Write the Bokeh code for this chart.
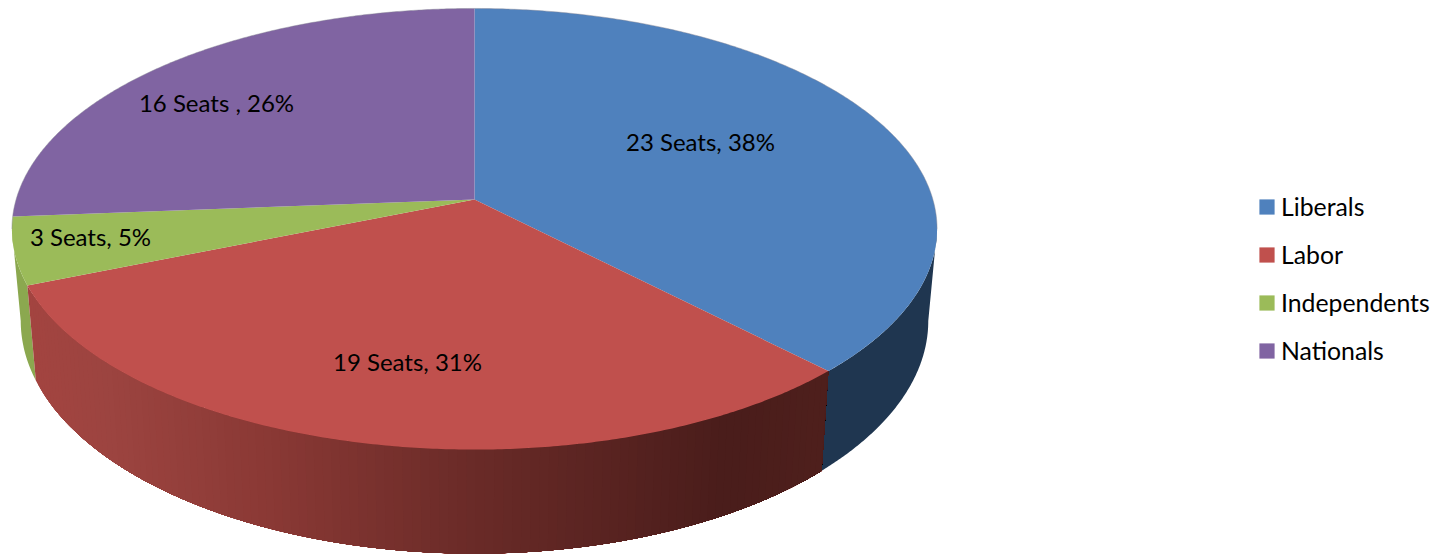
import numpy as np
from bokeh.plotting import figure
from bokeh.models import Legend, LegendItem, Range1d
from bokeh.core.properties import value
from bokeh.embed import file_html
from bokeh.resources import INLINE

# ---- chart data ----
PARTIES = ["Liberals", "Labor", "Independents", "Nationals"]
SEATS = [23, 19, 3, 16]
DATA_LABELS = ["23 Seats, 38%", "19 Seats, 31%", "3 Seats, 5%", "16 Seats , 26%"]

# ---- styling ----
TOP_COLORS = ["#4F81BD", "#C0504D", "#9BBB59", "#8064A2"]
SIDE_BLUE = "#1F3650"
SIDE_GREEN = "#8BA84F"
RED_STOPS_X = [30, 110, 265, 470, 725, 830]
RED_STOPS_RGB = [(163, 68, 64), (156, 68, 64), (138, 57, 53), (106, 43, 40), (74, 29, 27), (79, 32, 29)]
FONT = "Lato"
LABEL_SIZE = "24px"
LEGEND_SIZE = "24.8px"

# ---- layout of the projected disc, in page pixels ----
CX, CY, A, B, K = 474.0, 199.0, 458.4, 216.6, 0.1338
LABEL_ANCHORS = [(700, 141), (407, 361), (90, 236), (216, 102)]


def top_rim(theta):
    u, v = np.sin(theta), np.cos(theta)
    d = 1 + K * v
    return CX + A * u / d, CY - B * v / d


def bottom_rim(theta):
    x, y = top_rim(theta)
    return CX + 0.981 * (x - CX), 1.055 * y + 79.3


p = figure(width=1437, height=555, output_backend="svg", toolbar_location=None,
           x_range=Range1d(0, 1437), y_range=Range1d(555, 0),
           min_border=0, margin=(0, 0, 0, 0), outline_line_color=None,
           background_fill_color="white", border_fill_color="white")
p.axis.visible = False
p.grid.visible = False

edges = 2 * np.pi * np.concatenate([[0], np.cumsum(SEATS)]) / sum(SEATS)
theta_right = np.arccos(-K)
theta_left = 2 * np.pi - theta_right


def wall(t0, t1, colour):
    ts = np.linspace(t0, t1, 120)
    xt, yt = top_rim(ts)
    xb, yb = bottom_rim(ts[::-1])
    p.patch(np.r_[xt, xb], np.r_[yt, yb], fill_color=colour, line_color=None)


def red(x):
    rgb = [int(np.interp(x, RED_STOPS_X, [c[i] for c in RED_STOPS_RGB])) for i in range(3)]
    return "#%02x%02x%02x" % tuple(rgb)


wall(theta_right, edges[1], SIDE_BLUE)
wall(edges[2], theta_left, SIDE_GREEN)
# shaded red wall: painted from left to right, each band running to the slice's far end
for t0 in np.arange(edges[2], edges[1], -np.radians(1.0)):
    wall(edges[1], t0, red(top_rim(t0)[0]))

items = []
for i, name in enumerate(PARTIES):
    ts = np.linspace(edges[i], edges[i + 1], 240)
    xr, yr = top_rim(ts)
    r = p.patch(np.r_[CX, xr], np.r_[CY, yr], fill_color=TOP_COLORS[i], line_color=None)
    items.append(LegendItem(label=name, renderers=[r]))

# faint grey hairline along the back of the rim
back = np.linspace(theta_left - 2 * np.pi, theta_right, 300)
xb, yb = top_rim(back)
p.line(xb, yb, line_color="#8a8a96", line_width=1, line_alpha=0.45)

p.text([a[0] for a in LABEL_ANCHORS], [a[1] for a in LABEL_ANCHORS], text=DATA_LABELS,
       text_align="center", text_baseline="middle", text_color="#000000",
       text_font=value(FONT), text_font_size=LABEL_SIZE)

legend = Legend(items=items, location=(1257, 555 - 365), orientation="vertical",
                glyph_width=19, glyph_height=19, label_standoff=5, spacing=19,
                padding=0, margin=0, border_line_color=None, background_fill_alpha=0,
                label_text_font=FONT, label_text_font_size=LEGEND_SIZE, label_text_color="#000000")
p.add_layout(legend, "center")

open("out.html", "w").write(file_html(p, INLINE))
